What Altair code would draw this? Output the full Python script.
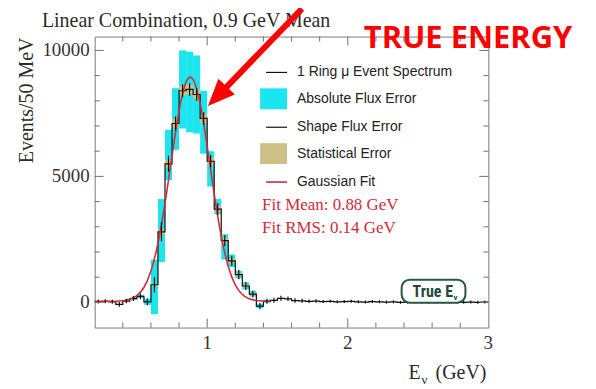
import altair as alt
import pandas as pd

# ---------------- data ----------------
bin_width = 0.05
bin_left = [round(0.20 + bin_width * i, 3) for i in range(56)]

counts = [30, 40, 20, -80, 50, 150, 240, 20, 700, 2800,
          5500, 7100, 8400, 8450, 8250, 7300, 5600, 3700, 2450, 1650,
          1100, 650, 330, -150, 40, 80, 160, 140, 70, 60,
          40, 50, 30, 40, 20, 30, 40, 20, 10, 30,
          20, 10, 20, 0, 10, 20, 10, 0, 10, 10,
          0, 10, 0, 10, 0, 10]
shape_err = [80, 80, 80, 90, 90, 100, 110, 130, 300, 380,
             320, 280, 250, 250, 250, 250, 250, 230, 220, 200,
             180, 160, 140, 120, 100, 100, 100, 90, 90, 80,
             70, 70, 60, 60, 60, 60, 60, 60, 60, 60,
             60, 60, 60, 60, 60, 60, 60, 60, 60, 60,
             60, 60, 60, 60, 60, 60]

cyan_left = [0.45, 0.50, 0.55, 0.60, 0.65, 0.70, 0.75, 0.80, 0.85, 0.90,
             0.95, 1.00, 1.05, 1.10, 1.15, 1.20, 1.25, 1.30, 1.35, 1.40]
cyan_lo = [110, 180, -100, -470, 1600, 4850, 6050, 6900, 6750, 6700,
           5900, 4600, 3500, 1700, 1400, 950, 520, 230, -230, -20]
cyan_hi = [190, 300, 150, 1700, 4100, 6850, 8500, 10000, 9950, 9800,
           8400, 6000, 4100, 2700, 1900, 1250, 800, 450, -60, 100]

stat_left = [0.60, 0.65, 0.70, 0.75, 0.80, 0.85, 0.90, 0.95, 1.00, 1.05,
             1.10, 1.15, 1.20, 1.25, 1.30]
stat_half = [60, 110, 150, 170, 190, 190, 190, 180, 160, 130,
             110, 90, 70, 60, 50]

fit_x = [0.20, 0.30, 0.40, 0.45, 0.50, 0.55, 0.60, 0.65, 0.70, 0.75, 0.80,
         0.85, 0.88, 0.90, 0.95, 1.00, 1.05, 1.10, 1.15, 1.20, 1.25, 1.30,
         1.35, 1.40, 1.45]
fit_y = [40, 42, 65, 120, 265, 590, 1245, 2345, 3930, 5820, 7600,
         8740, 8940, 8850, 7895, 6205, 4300, 2630, 1425, 695, 310, 140,
         72, 50, 42]

x_labels = [1, 2, 3]
y_labels = [0, 5000, 10000]
x_major = [1, 2]
x_minor = [0.4, 0.6, 0.8, 1.2, 1.4, 1.6, 1.8, 2.2, 2.4, 2.6, 2.8]
y_major = [0, 5000, 10000]
y_minor = [1000, 2000, 3000, 4000, 6000, 7000, 8000, 9000]

legend_labels = ["1 Ring \u03bc Event Spectrum", "Absolute Flux Error",
                 "Shape Flux Error", "Statistical Error", "Gaussian Fit"]
fit_texts = ["Fit Mean: 0.88 GeV", "Fit RMS: 0.14 GeV"]

# ---------------- frames ----------------
hist = pd.DataFrame({
    "x0": bin_left,
    "x1": [b + bin_width for b in bin_left],
    "xc": [b + bin_width / 2 for b in bin_left],
    "v": counts,
    "e": shape_err,
})
hist["lo"] = hist["v"] - hist["e"]
hist["hi"] = hist["v"] + hist["e"]

step = pd.DataFrame({"x": bin_left + [3.0], "v": counts + [counts[-1]]})

cyan = pd.DataFrame({"x0": cyan_left, "x1": [c + bin_width for c in cyan_left],
                     "lo": cyan_lo, "hi": cyan_hi})

vmap = dict(zip(bin_left, counts))
stat = pd.DataFrame({"x0": stat_left, "x1": [s + bin_width for s in stat_left]})
stat["lo"] = [vmap[round(s, 3)] - h for s, h in zip(stat_left, stat_half)]
stat["hi"] = [vmap[round(s, 3)] + h for s, h in zip(stat_left, stat_half)]

fit = pd.DataFrame({"x": fit_x, "y": fit_y})

xs = alt.Scale(domain=[0.2, 3.0], nice=False, zero=False)
ys = alt.Scale(domain=[-1000, 10550], nice=False, zero=False)

CYAN = "#1be6ef"
KHAKI = "#cdbf85"
FITRED = "#d42a3a"
TICK = "#707070"
SERIF = "Liberation Serif"
SANS = "Liberation Sans"

dummy = pd.DataFrame({"d": [0]})

layers = []

# cyan absolute flux error
layers.append(alt.Chart(cyan).mark_rect(color=CYAN).encode(
    x=alt.X("x0:Q", scale=xs, axis=None), x2="x1",
    y=alt.Y("lo:Q", scale=ys, axis=None), y2="hi"))

# statistical error
layers.append(alt.Chart(stat).mark_rect(color=KHAKI).encode(
    x=alt.X("x0:Q", scale=xs, axis=None), x2="x1",
    y=alt.Y("lo:Q", scale=ys, axis=None), y2="hi"))

# step histogram
layers.append(alt.Chart(step).mark_line(interpolate="step-after", color="#111",
                                        strokeWidth=1.2).encode(
    x=alt.X("x:Q", scale=xs, axis=None),
    y=alt.Y("v:Q", scale=ys, axis=None)))

# gaussian fit
layers.append(alt.Chart(fit).mark_line(color=FITRED, strokeWidth=1.6,
                                       interpolate="monotone").encode(
    x=alt.X("x:Q", scale=xs, axis=None), y=alt.Y("y:Q", scale=ys, axis=None)))

# shape flux error bars
layers.append(alt.Chart(hist).mark_rule(color="#111", strokeWidth=1.2).encode(
    x=alt.X("xc:Q", scale=xs, axis=None),
    y=alt.Y("lo:Q", scale=ys, axis=None), y2="hi"))

# inward ticks
def yticks(vals, length):
    d = pd.DataFrame({"t": vals})
    left = alt.Chart(d).mark_rule(color=TICK).encode(
        x=alt.value(0), x2=alt.value(length), y=alt.Y("t:Q", scale=ys, axis=None))
    right = alt.Chart(d).mark_rule(color=TICK).encode(
        x=alt.value(395), x2=alt.value(395 - length), y=alt.Y("t:Q", scale=ys, axis=None))
    return [left, right]

def xticks(vals, length):
    d = pd.DataFrame({"t": vals})
    bot = alt.Chart(d).mark_rule(color=TICK).encode(
        x=alt.X("t:Q", scale=xs, axis=None), y=alt.value(292), y2=alt.value(292 - length))
    top = alt.Chart(d).mark_rule(color=TICK).encode(
        x=alt.X("t:Q", scale=xs, axis=None), y=alt.value(0), y2=alt.value(length))
    return [bot, top]

layers += yticks(y_major, 9) + yticks(y_minor, 5) + xticks(x_major, 9) + xticks(x_minor, 5)

# tick labels
layers.append(alt.Chart(pd.DataFrame({"t": x_labels})).mark_text(
    font=SERIF, fontSize=19, color="#333", align="center", baseline="top").encode(
    x=alt.X("t:Q", scale=xs, axis=None), y=alt.value(299), text="t:N"))
layers.append(alt.Chart(pd.DataFrame({"t": y_labels})).mark_text(
    font=SERIF, fontSize=19, color="#333", align="right", baseline="middle").encode(
    y=alt.Y("t:Q", scale=ys, axis=None), x=alt.value(-5), text="t:N"))

def text(t, x, y, **kw):
    return alt.Chart(dummy).mark_text(text=t, **kw).encode(x=alt.value(x), y=alt.value(y))

# True E_nu box
layers.append(alt.Chart(dummy).mark_rect(fill="white", stroke="#265844", strokeWidth=2,
                                         cornerRadius=8).encode(
    x=alt.value(308), x2=alt.value(372), y=alt.value(244), y2=alt.value(267)))
layers.append(text("True E", 319, 261, font="Liberation Sans Narrow, Roboto Condensed, Roboto",
                   fontWeight="bold", fontSize=16, color="#1f4a38", align="left",
                   baseline="alphabetic"))
layers.append(text("\u03bd", 360, 264, font="Roboto", fontWeight="bold", fontSize=8,
                   color="#1f4a38", align="left", baseline="alphabetic"))

# legend
sym_x0, sym_x1 = 166, 193
leg_y = [36, 63, 91, 118, 146]
layers.append(alt.Chart(dummy).mark_rule(color="#111", strokeWidth=1.2).encode(
    x=alt.value(sym_x0 + 6), x2=alt.value(sym_x1), y=alt.value(leg_y[0])))
layers.append(alt.Chart(dummy).mark_rect(color=CYAN).encode(
    x=alt.value(sym_x0), x2=alt.value(sym_x1), y=alt.value(leg_y[1] - 11), y2=alt.value(leg_y[1] + 10)))
layers.append(alt.Chart(dummy).mark_rule(color="#111", strokeWidth=1.2).encode(
    x=alt.value(sym_x0 + 6), x2=alt.value(sym_x1), y=alt.value(leg_y[2])))
layers.append(alt.Chart(dummy).mark_rect(color=KHAKI).encode(
    x=alt.value(sym_x0), x2=alt.value(sym_x1), y=alt.value(leg_y[3] - 11), y2=alt.value(leg_y[3] + 10)))
layers.append(alt.Chart(dummy).mark_rule(color=FITRED, strokeWidth=1.6).encode(
    x=alt.value(sym_x0 + 6), x2=alt.value(sym_x1), y=alt.value(leg_y[4])))
for lab, yy in zip(legend_labels, leg_y):
    layers.append(text(lab, 203, yy, font=SANS, fontSize=14, color="#222",
                       align="left", baseline="middle"))
for lab, yy in zip(fit_texts, [169, 192]):
    layers.append(text(lab, 168, yy, font=SERIF, fontSize=17, color=FITRED,
                       align="left", baseline="middle"))

# titles
layers.append(text("Linear Combination, 0.9 GeV Mean", -53, -10, font=SERIF, fontSize=20,
                   color="#2b2b2b", align="left", baseline="alphabetic"))
layers.append(text("Events/50 MeV", -68, 64, font=SERIF, fontSize=20, color="#2b2b2b",
                   align="center", baseline="middle", angle=270))
layers.append(text("E", 315, 344, font=SERIF, fontSize=20, color="#2b2b2b",
                   align="left", baseline="alphabetic"))
layers.append(text("\u03bd", 328, 349, font=SERIF, fontSize=13, color="#2b2b2b",
                   align="left", baseline="alphabetic"))
layers.append(text("(GeV)", 342, 344, font=SERIF, fontSize=20, color="#2b2b2b",
                   align="left", baseline="alphabetic"))

# annotation
layers.append(alt.Chart(dummy).mark_rule(color="#ff0000", strokeWidth=6).encode(
    x=alt.value(208), x2=alt.value(131), y=alt.value(-28), y2=alt.value(52)))
layers.append(alt.Chart(dummy).mark_point(shape="M0,-1L0.85,1L-0.85,1Z", size=729,
                                          filled=True, color="#ff0000", opacity=1,
                                          angle=224).encode(
    x=alt.value(123), y=alt.value(60)))
layers.append(text("TRUE ENERGY", 270, 11, font="Open Sans", fontWeight="bold",
                   fontSize=31, color="#ff0000", align="left", baseline="alphabetic"))

chart = alt.layer(*layers).properties(
    width=395, height=292,
    autosize=alt.AutoSizeParams(type="none"),
    padding={"left": 87, "top": 28, "right": 100, "bottom": 60},
).configure_view(stroke="#7a7a7a", strokeWidth=1)

chart.save("out.html", embed_options={"renderer": "svg", "actions": False})
